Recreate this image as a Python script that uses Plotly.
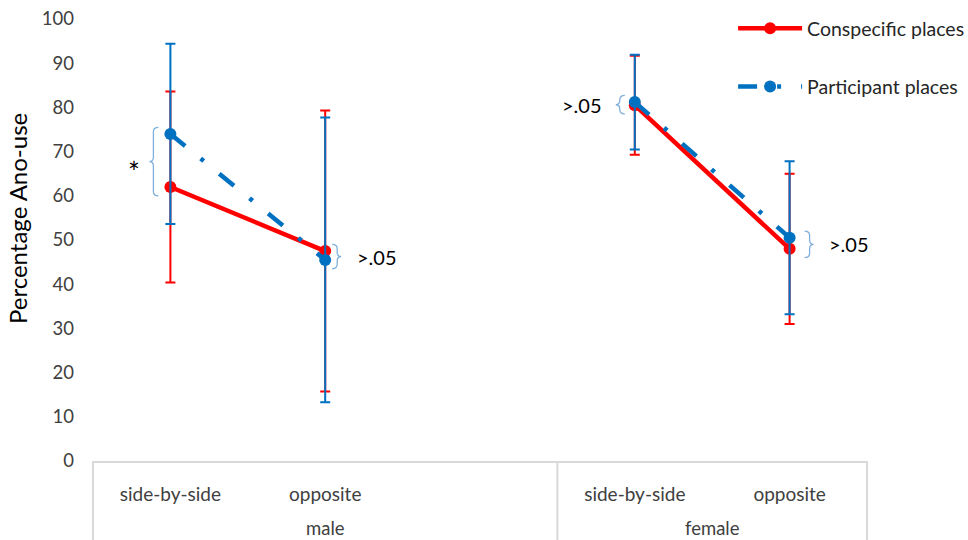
import plotly.graph_objects as go

# Groups and arrangements along the x axis
groups = ["male", "male", "female", "female"]
arrangements = ["side-by-side", "opposite", "side-by-side", "opposite"]

# Mean percentage of Ano-use and error-bar half widths
conspecific = [62.0, 47.5, 80.5, 48.0]
conspecific_err = [21.6, 31.8, 11.2, 17.0]
participant = [74.0, 45.5, 81.2, 50.5]
participant_err = [20.4, 32.2, 10.7, 17.3]

# Significance labels for each pairwise comparison
sig_labels = ["*", ">.05", ">.05", ">.05"]

y_ticks = list(range(0, 101, 10))
y_title = "Percentage Ano-use"

# Slot positions: one empty slot separates the two groups
group_names = list(dict.fromkeys(groups))
xpos = []
slot = 0
prev = None
for g in groups:
    if prev is not None and g != prev:
        slot += 1
    xpos.append(slot)
    slot += 1
    prev = g
n_slots = slot
x_min, x_max = -0.5, n_slots - 0.5


def broken(values, fill=None):
    """Insert a break between groups so lines don't join across them."""
    out = []
    for i, v in enumerate(values):
        if i > 0 and groups[i] != groups[i - 1]:
            out.append(fill)
        out.append(v)
    return out


RED = "#ff0000"
BLUE = "#0070c0"
BRACE = "#7fb0dc"
FONT = "Lato"

fig = go.Figure()

fig.add_trace(go.Scatter(
    x=broken(xpos), y=broken(conspecific), name="Conspecific places",
    mode="lines+markers", connectgaps=False,
    line=dict(color=RED, width=4.5),
    marker=dict(color=RED, size=12),
    error_y=dict(type="data", array=broken(conspecific_err, 0), color=RED,
                 thickness=2, width=5),
    legendgroup="a",
))
fig.add_trace(go.Scatter(
    x=broken(xpos), y=broken(participant), name="Participant places",
    mode="lines+markers", connectgaps=False,
    line=dict(color=BLUE, width=4.5, dash="19px,20px,4px,20px"),
    marker=dict(color=BLUE, size=12),
    error_y=dict(type="data", array=broken(participant_err, 0), color=BLUE,
                 thickness=2, width=5),
    legendgroup="b",
))

# Curly braces between the two series at each arrangement
brace_dx = [-17, 12, -15, 20]      # px offset of the brace spine from the point
label_dx = [-36, 30, -31, 37]      # px offset of the significance label
shapes = []
annotations = []
r = 1.0
for i, x in enumerate(xpos):
    top = max(conspecific[i], participant[i]) + 1.5
    bot = min(conspecific[i], participant[i]) - 2.0
    mid = (top + bot) / 2
    v = brace_dx[i]
    s = -1 if v < 0 else 1          # -1: opening brace, +1: closing brace
    e = v - 5 * s                   # arm ends
    t = v + 4 * s                   # tip
    path = (f"M{e},{top} Q{v},{top} {v},{top - r} L{v},{mid + r} "
            f"Q{v},{mid} {t},{mid} Q{v},{mid} {v},{mid - r} "
            f"L{v},{bot + r} Q{v},{bot} {e},{bot}")
    shapes.append(dict(type="path", xref="x", yref="y", xsizemode="pixel",
                       xanchor=x, path=path,
                       line=dict(color=BRACE, width=1.3)))
    star = sig_labels[i] == "*"
    annotations.append(dict(
        x=x, y=mid, xref="x", yref="y", text=sig_labels[i], showarrow=False,
        xshift=label_dx[i],
        xanchor="center" if star else ("right" if s < 0 else "left"),
        yanchor="middle", yshift=-10 if star else 0,
        font=dict(family=FONT, size=28 if star else 20, color="#000000"),
    ))

# Category box below the axis
for xd in (0, 1):
    shapes.append(dict(type="line", xref="x domain", yref="paper",
                       x0=xd, x1=xd, y0=0, y1=-0.25,
                       line=dict(color="#d9d9d9", width=2)))
first_of_second = xpos[groups.index(group_names[1])]
shapes.append(dict(type="line", xref="x", yref="paper",
                   x0=first_of_second - 0.5, x1=first_of_second - 0.5,
                   y0=0, y1=-0.25, line=dict(color="#d9d9d9", width=2)))

# Group labels centred under their slots
bounds = {}
for g, x in zip(groups, xpos):
    lo, hi = bounds.get(g, (x, x))
    bounds[g] = (min(lo, x), max(hi, x))
for k, g in enumerate(group_names):
    lo, hi = bounds[g]
    if k + 1 < len(group_names):
        hi = bounds[group_names[k + 1]][0] - 1
    annotations.append(dict(
        x=(lo + hi) / 2, y=0, xref="x", yref="y", text=g, showarrow=False,
        yshift=-67, yanchor="middle",
        font=dict(family=FONT, size=18.5, color="#404040"),
    ))

# Vertical axis title
annotations.append(dict(
    x=-75 / 774, y=(461 - 219) / 442, xref="paper", yref="paper",
    text=y_title, textangle=-90, showarrow=False,
    xanchor="center", yanchor="middle",
    font=dict(family=FONT, size=24, color="#000000"),
))

fig.update_layout(
    width=968, height=540,
    margin=dict(l=93, r=101, t=19, b=79, pad=0, autoexpand=False),
    paper_bgcolor="white", plot_bgcolor="white",
    font=dict(family=FONT, size=18.5, color="#404040"),
    showlegend=True,
    legend=dict(
        x=0.827, y=1.0225, xanchor="left", yanchor="top",
        font=dict(family=FONT, size=19.5, color="#262626"),
        tracegroupgap=30, itemwidth=64, bgcolor="rgba(0,0,0,0)",
    ),
    xaxis=dict(
        range=[x_min, x_max], tickvals=xpos, ticktext=arrangements,
        tickfont=dict(family=FONT, size=19, color="#404040"),
        showgrid=False, zeroline=False, showline=True,
        linecolor="#d9d9d9", linewidth=2, ticks="",
        ticklabelstandoff=15,
    ),
    yaxis=dict(
        range=[0, 100], tickvals=y_ticks, showgrid=False, zeroline=False,
        showline=False, ticks="", ticklabelstandoff=18,
        tickfont=dict(family=FONT, size=18.5, color="#404040"),
    ),
    shapes=shapes,
    annotations=annotations,
)

fig.write_html("out.html")
